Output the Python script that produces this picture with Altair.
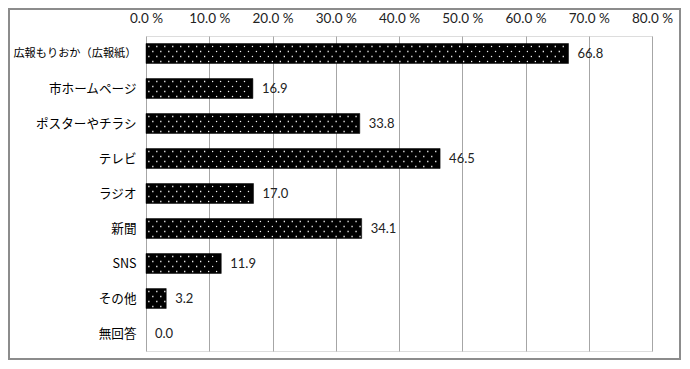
import altair as alt
import pandas as pd

categories = ["広報もりおか（広報紙）", "市ホームページ", "ポスターやチラシ", "テレビ", "ラジオ", "新聞", "SNS", "その他", "無回答"]
values = [66.8, 16.9, 33.8, 46.5, 17.0, 34.1, 11.9, 3.2, 0.0]
x_ticks = [0, 10, 20, 30, 40, 50, 60, 70, 80]

df = pd.DataFrame({"category": categories, "value": values})

W, H = 506, 315
y_enc = alt.Y("category:N", sort=categories, title=None,
              scale=alt.Scale(paddingInner=0.43, paddingOuter=0.215),
              axis=alt.Axis(labelFont="Noto Sans CJK JP",
                            labelFontSize={"condition": {"test": "length(datum.value) > 10", "value": 11.2}, "value": 12.6},
                            labelColor="#000", labelLimit=200,
                            labelPadding=10, ticks=False, domain=False, grid=False))
x_scale = alt.Scale(domain=[0, 80], nice=False)

base = alt.Chart(df)

bars = base.transform_filter("datum.value > 0").mark_bar(color="#000", stroke="#000", strokeWidth=0.5).encode(
    x=alt.X("value:Q", scale=x_scale, title=None,
            axis=alt.Axis(orient="top", values=x_ticks,
                          labelExpr="format(datum.value, '.1f') + ' %'",
                          labelFont="Lato", labelFontSize=13.5, labelColor="#222",
                          labelFlush=False, labelOverlap=False,
                          labelPadding=11, ticks=False, domain=False,
                          grid=True, gridColor="#a6a6a6", gridWidth=1)),
    y=y_enc,
)

dot_layers = []
for i, off in enumerate([-7, -2, 3, 8]):
    start = 0.45 if i % 2 == 0 else 1.08
    d = base.transform_filter("datum.value > 0.5").transform_calculate(
        dots=f"sequence({start}, datum.value - 0.2, 1.26)"
    ).transform_flatten(["dots"]).mark_square(
        size=1.6, color="white", opacity=0.95, yOffset=off
    ).encode(
        x=alt.X("dots:Q", scale=x_scale),
        y=alt.Y("category:N", sort=categories),
    )
    dot_layers.append(d)

text = base.mark_text(align="left", dx=9, font="Lato", fontSize=13, color="#222").encode(
    x=alt.X("value:Q", scale=x_scale),
    y=alt.Y("category:N", sort=categories),
    text=alt.Text("value:Q", format=".1f"),
)

frame = alt.Chart(pd.DataFrame({"a": [0]})).mark_rect(
    fill=None, stroke="#8c8c8c", strokeWidth=2
).encode(
    x=alt.value(-137), x2=alt.value(W + 28), y=alt.value(-27), y2=alt.value(H + 8)
)

chart = alt.layer(bars, *dot_layers, text, frame).properties(
    width=W, height=H,
    autosize=alt.AutoSizeParams(type="none"),
    padding={"left": 138, "top": 28, "right": 30, "bottom": 10},
).configure_view(stroke=None).configure(background="white")

chart.save("out.html", embed_options={"renderer": "svg", "actions": False})
